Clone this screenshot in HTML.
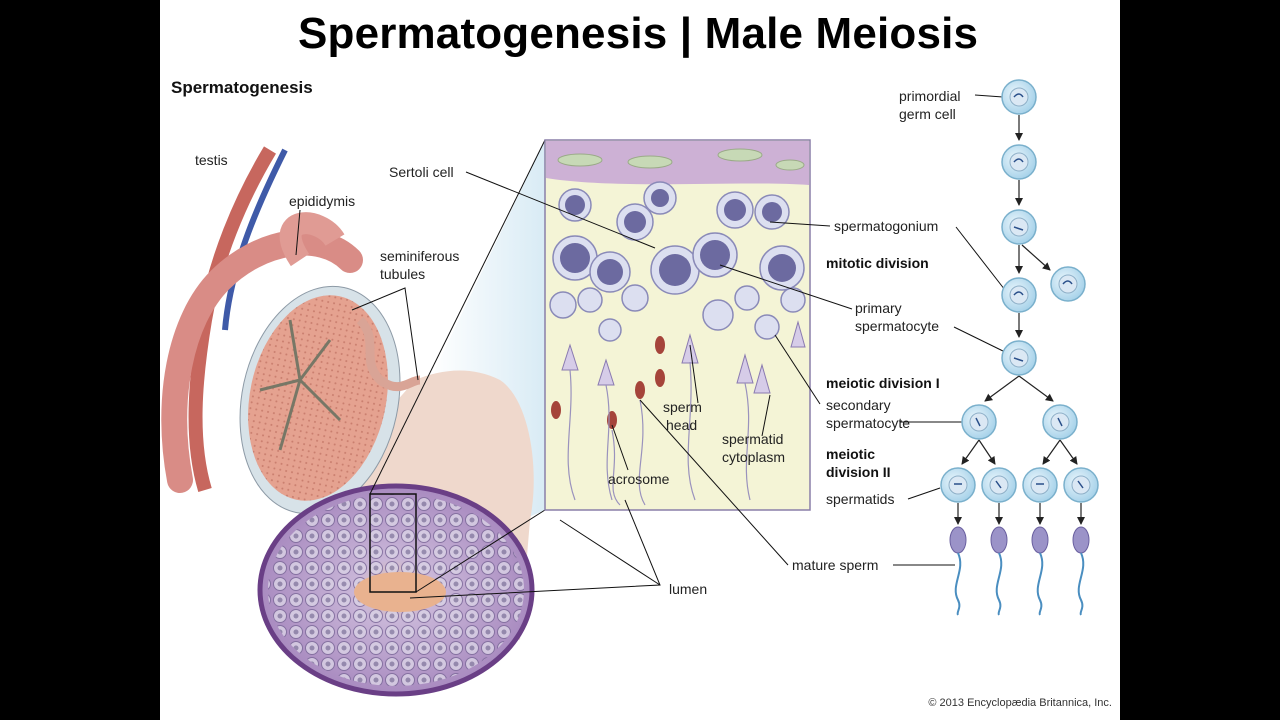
<!DOCTYPE html>
<html><head><meta charset="utf-8"><style>
body{margin:0;width:1280px;height:720px;background:#000;overflow:hidden;font-family:"Liberation Sans",sans-serif}
#w{position:absolute;left:160px;top:0;width:960px;height:720px;background:#fff}
svg{position:absolute;left:0;top:0}
.t{font-size:14px;fill:#222}
.b{font-size:14px;font-weight:bold;fill:#111}
</style></head><body>
<div id="w"></div>
<svg width="1280" height="720" viewBox="0 0 1280 720">
<text x="638" y="48" text-anchor="middle" font-size="44" font-weight="bold" fill="#000" textLength="680">Spermatogenesis | Male Meiosis</text>
<text x="171" y="93" font-size="17" font-weight="bold" fill="#111">Spermatogenesis</text>
<defs>
<linearGradient id="bg" x1="0" x2="1"><stop offset="0" stop-color="#fff"/><stop offset="1" stop-color="#cfe6f2"/></linearGradient>
<radialGradient id="tb" cx="0.5" cy="0.5" r="0.5"><stop offset="0" stop-color="#e8c7a8"/><stop offset="0.3" stop-color="#c9b6d8"/><stop offset="1" stop-color="#a98bc0"/></radialGradient>
<radialGradient id="cl" cx="0.4" cy="0.4" r="0.6"><stop offset="0" stop-color="#eaf6fc"/><stop offset="1" stop-color="#a9d3ea"/></radialGradient>
<pattern id="cp" width="16" height="16" patternUnits="userSpaceOnUse"><circle cx="8" cy="8" r="6.5" fill="#d8d0e4" stroke="#7d6a9a" stroke-width="1"/><circle cx="8" cy="8" r="2.5" fill="#8f86a8"/></pattern>
<pattern id="sp" width="6" height="6" patternUnits="userSpaceOnUse"><rect width="6" height="6" fill="#e5a290"/><circle cx="2" cy="2" r="1" fill="#c97e6e"/></pattern>
<marker id="ah" markerWidth="8" markerHeight="8" refX="7" refY="4" orient="auto" markerUnits="userSpaceOnUse"><path d="M0,0 L8,4 L0,8z" fill="#222"/></marker>
</defs>
<polygon points="430,380 545,140 545,510 430,560" fill="url(#bg)" opacity="0.8"/>
<path d="M415,380 C440,370 470,365 500,380 C530,400 540,470 530,520 L520,640 L300,520 C340,460 390,410 415,380Z" fill="#efd8cc"/>
<path d="M270,150 C240,200 215,260 205,320 C195,380 190,440 205,490" stroke="#c7675e" stroke-width="14" fill="none"/>
<path d="M285,150 C255,210 230,270 225,330" stroke="#3f5aa8" stroke-width="6" fill="none"/>
<path d="M180,480 C165,400 180,320 220,280 C260,240 320,230 350,260" stroke="#d98c86" stroke-width="26" fill="none" stroke-linecap="round"/>
<path d="M300,260 C270,215 320,215 335,240" stroke="#e09b94" stroke-width="22" fill="none"/>
<ellipse cx="320" cy="400" rx="78" ry="115" transform="rotate(12 320 400)" fill="#d7e2e8" stroke="#8d9aa6"/>
<ellipse cx="318" cy="398" rx="68" ry="104" transform="rotate(12 318 398)" fill="url(#sp)"/>
<path d="M290,320 L300,380 L280,450 M300,380 L340,420 M300,380 L260,390 M300,380 L330,340" stroke="#776" stroke-width="3" fill="none"/>
<path d="M360,320 C380,340 360,360 380,380 C400,395 410,380 420,380" stroke="#d9a496" stroke-width="9" fill="none"/>
<ellipse cx="396" cy="590" rx="136" ry="104" fill="url(#tb)" stroke="#6a3f86" stroke-width="5"/>
<ellipse cx="396" cy="590" rx="128" ry="96" fill="url(#cp)" opacity="0.85"/>
<ellipse cx="400" cy="592" rx="46" ry="20" fill="#e9b28f"/>
<rect x="370" y="494" width="46" height="98" fill="none" stroke="#111" stroke-width="1.5"/>
<line x1="370" y1="494" x2="545" y2="140" stroke="#111"/>
<line x1="416" y1="592" x2="545" y2="510" stroke="#111"/>
<rect x="545" y="140" width="265" height="370" fill="#f4f4d6" stroke="#8a7fa8" stroke-width="1.5"/>
<path d="M546,141 H809 V185 C740,180 620,190 546,178Z" fill="#cdb1d5"/>
<g fill="#c7d9b6" stroke="#9aaa88"><ellipse cx="580" cy="160" rx="22" ry="6"/><ellipse cx="650" cy="162" rx="22" ry="6"/><ellipse cx="740" cy="155" rx="22" ry="6"/><ellipse cx="790" cy="165" rx="14" ry="5"/></g>
<g fill="#dcdff0" stroke="#8a8ab8" stroke-width="1.5">
<circle cx="575" cy="205" r="16"/><circle cx="635" cy="222" r="18"/><circle cx="660" cy="198" r="16"/><circle cx="735" cy="210" r="18"/><circle cx="772" cy="212" r="17"/>
<circle cx="575" cy="258" r="22"/><circle cx="610" cy="272" r="20"/><circle cx="675" cy="270" r="24"/><circle cx="715" cy="255" r="22"/><circle cx="782" cy="268" r="22"/>
<circle cx="563" cy="305" r="13"/><circle cx="590" cy="300" r="12"/><circle cx="635" cy="298" r="13"/><circle cx="718" cy="315" r="15"/><circle cx="747" cy="298" r="12"/><circle cx="767" cy="327" r="12"/><circle cx="793" cy="300" r="12"/><circle cx="610" cy="330" r="11"/>
</g>
<g fill="#6c6aa0">
<circle cx="575" cy="205" r="10"/><circle cx="635" cy="222" r="11"/><circle cx="660" cy="198" r="9"/><circle cx="735" cy="210" r="11"/><circle cx="772" cy="212" r="10"/>
<circle cx="575" cy="258" r="15"/><circle cx="610" cy="272" r="13"/><circle cx="675" cy="270" r="16"/><circle cx="715" cy="255" r="15"/><circle cx="782" cy="268" r="14"/>
</g>
<g fill="#d6cce8" stroke="#8a7ab0"><path d="M570,345 l8,25 l-16,0z"/><path d="M606,360 l8,25 l-16,0z"/><path d="M690,335 l8,28 l-16,0z"/><path d="M745,355 l8,28 l-16,0z"/><path d="M762,365 l8,28 l-16,0z"/><path d="M798,322 l7,25 l-14,0z"/></g>
<g fill="#a5443a"><ellipse cx="556" cy="410" rx="5" ry="9"/><ellipse cx="612" cy="420" rx="5" ry="9"/><ellipse cx="640" cy="390" rx="5" ry="9"/><ellipse cx="660" cy="378" rx="5" ry="9"/><ellipse cx="660" cy="345" rx="5" ry="9"/></g>
<g stroke="#9a92bd" fill="none" stroke-width="1.2"><path d="M570,370 C575,420 560,460 575,500"/><path d="M606,385 C615,430 600,460 612,500"/><path d="M690,362 C695,420 680,460 695,500"/><path d="M745,383 C755,430 740,460 750,500"/><path d="M640,400 C650,450 630,480 645,505"/><path d="M612,430 C620,470 605,490 620,505"/></g>
<g class="t">
<text x="195" y="165" class="t">testis</text>
<text x="289" y="206" class="t">epididymis</text>
<text x="380" y="261" class="t">seminiferous</text><text x="380" y="279" class="t">tubules</text>
<text x="389" y="177" class="t">Sertoli cell</text>
<text x="834" y="231" class="t">spermatogonium</text>
<text x="826" y="268" class="b">mitotic division</text>
<text x="855" y="313" class="t">primary</text><text x="855" y="331" class="t">spermatocyte</text>
<text x="826" y="388" class="b">meiotic division I</text>
<text x="826" y="410" class="t">secondary</text><text x="826" y="428" class="t">spermatocyte</text>
<text x="826" y="459" class="b">meiotic</text><text x="826" y="477" class="b">division II</text>
<text x="826" y="504" class="t">spermatids</text>
<text x="792" y="570" class="t">mature sperm</text>
<text x="669" y="594" class="t">lumen</text>
<text x="608" y="484" class="t">acrosome</text>
<text x="663" y="412" class="t">sperm</text><text x="666" y="430" class="t">head</text>
<text x="722" y="444" class="t">spermatid</text><text x="722" y="462" class="t">cytoplasm</text>
<text x="899" y="101" class="t">primordial</text><text x="899" y="119" class="t">germ cell</text>
</g>
<text x="1112" y="706" text-anchor="end" font-size="11" fill="#333">© 2013 Encyclopædia Britannica, Inc.</text>
<g stroke="#111" fill="none" stroke-width="1">
<line x1="300" y1="210" x2="296" y2="255"/>
<path d="M352,310 L405,288 L418,380"/>
<line x1="466" y1="172" x2="655" y2="248"/>
<line x1="830" y1="226" x2="770" y2="222"/>
<line x1="852" y1="309" x2="720" y2="265"/>
<line x1="820" y1="404" x2="775" y2="335"/>
<line x1="698" y1="403" x2="690" y2="345"/>
<line x1="762" y1="436" x2="770" y2="395"/>
<line x1="628" y1="470" x2="612" y2="425"/>
<line x1="788" y1="565" x2="640" y2="400"/>
<path d="M625,500 L660,585 L410,598 M660,585 L560,520"/>
<line x1="975" y1="95" x2="1003" y2="97"/>
<line x1="956" y1="227" x2="1005" y2="290"/>
<line x1="954" y1="327" x2="1005" y2="352"/>
<line x1="900" y1="422" x2="962" y2="422"/>
<line x1="908" y1="499" x2="940" y2="488"/>
<line x1="893" y1="565" x2="955" y2="565"/>
</g>
<g stroke="#222" stroke-width="1.2" fill="none" marker-end="url(#ah)">
<line x1="1019" y1="115" x2="1019" y2="140"/><line x1="1019" y1="180" x2="1019" y2="205"/>
<line x1="1019" y1="245" x2="1019" y2="273"/><line x1="1022" y1="245" x2="1050" y2="270"/>
<line x1="1019" y1="313" x2="1019" y2="337"/>
<line x1="1019" y1="376" x2="985" y2="401"/><line x1="1019" y1="376" x2="1053" y2="401"/>
<line x1="979" y1="440" x2="962" y2="464"/><line x1="979" y1="440" x2="995" y2="464"/>
<line x1="1060" y1="440" x2="1043" y2="464"/><line x1="1060" y1="440" x2="1077" y2="464"/>
<line x1="958" y1="503" x2="958" y2="524"/><line x1="999" y1="503" x2="999" y2="524"/><line x1="1040" y1="503" x2="1040" y2="524"/><line x1="1081" y1="503" x2="1081" y2="524"/>
</g>
<g fill="url(#cl)" stroke="#7ab0cc" stroke-width="1.5">
<circle cx="1019" cy="97" r="17"/><circle cx="1019" cy="162" r="17"/><circle cx="1019" cy="227" r="17"/><circle cx="1019" cy="295" r="17"/><circle cx="1068" cy="284" r="17"/><circle cx="1019" cy="358" r="17"/><circle cx="979" cy="422" r="17"/><circle cx="1060" cy="422" r="17"/><circle cx="958" cy="485" r="17"/><circle cx="999" cy="485" r="17"/><circle cx="1040" cy="485" r="17"/><circle cx="1081" cy="485" r="17"/>
</g>
<g fill="#dbe8f4" stroke="#8fb0c8"><circle cx="1019" cy="97" r="9"/><circle cx="1019" cy="162" r="9"/><circle cx="1019" cy="227" r="9"/><circle cx="1019" cy="295" r="9"/><circle cx="1068" cy="284" r="9"/><circle cx="1019" cy="358" r="9"/><circle cx="979" cy="422" r="9"/><circle cx="1060" cy="422" r="9"/><circle cx="958" cy="485" r="9"/><circle cx="999" cy="485" r="9"/><circle cx="1040" cy="485" r="9"/><circle cx="1081" cy="485" r="9"/></g>
<g stroke="#2a4f8a" stroke-width="1.5" fill="none"><path d="M1014,97 q5,-6 9,0"/><path d="M1014,162 q5,-6 9,0"/><path d="M1014,227 l9,3"/><path d="M1014,295 q5,-6 9,0"/><path d="M1063,284 q5,-6 9,0"/><path d="M1014,358 l9,3"/><path d="M976,418 l4,8"/><path d="M1058,418 l4,8"/><path d="M954,484 h8"/><path d="M996,481 l5,7"/><path d="M1036,484 h8"/><path d="M1078,481 l5,7"/></g>
<g fill="#9b93c8" stroke="#6a60a0"><ellipse cx="958" cy="540" rx="8" ry="13"/><ellipse cx="999" cy="540" rx="8" ry="13"/><ellipse cx="1040" cy="540" rx="8" ry="13"/><ellipse cx="1081" cy="540" rx="8" ry="13"/></g>
<g stroke="#4a8ec0" stroke-width="2" fill="none"><path d="M958,553 C966,570 950,585 958,600 C962,608 956,612 958,615"/><path d="M999,553 C1007,570 991,585 999,600 C1003,608 997,612 999,615"/><path d="M1040,553 C1048,570 1032,585 1040,600 C1044,608 1038,612 1040,615"/><path d="M1081,553 C1089,570 1073,585 1081,600 C1085,608 1079,612 1081,615"/></g>
</svg>
</body></html>
